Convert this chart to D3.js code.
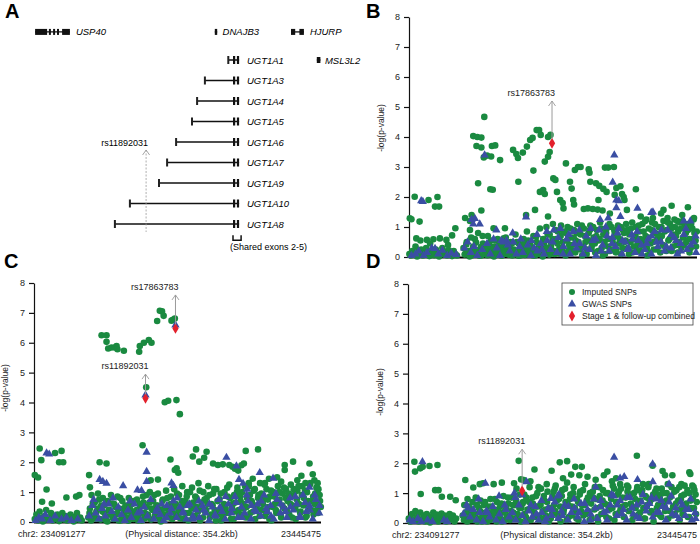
<!DOCTYPE html>
<html><head><meta charset="utf-8">
<script src="https://cdn.jsdelivr.net/npm/d3@7"></script>
<style>body{margin:0;background:#fff}svg{display:block;font-family:"Liberation Sans",Arial,sans-serif}</style>
</head><body><script>
// ---------- DATA ----------
const yTicks=[0,1,2,3,4,5,6,7,8];
const regionKb=354.2;
// Panel A gene tracks (units on an arbitrary map axis 0..100, track index)
const topGenes=[
 {name:"USP40",track:-0.37,exons:[[1.7,5.7],[6.3,6.7],[7.7,8.3],[9,9.4],[10.7,13.3]],span:[1.7,13.3],label:15.3},
 {name:"DNAJB3",track:-0.37,exons:[[61.6,62.4]],span:[61.6,62.4],label:64.2},
 {name:"HJURP",track:-0.37,exons:[[87,88.4],[89.8,91.3]],span:[87,91.3],label:93.3},
 {name:"MSL3L2",track:1,exons:[[95.6,96.8]],span:[95.6,96.8],label:98.3}
];
const ugtNames=["UGT1A1","UGT1A3","UGT1A4","UGT1A5","UGT1A6","UGT1A7","UGT1A9","UGT1A10","UGT1A8"];
const ugtStart=[66.1,58.3,55.7,54,48.7,45.7,43,33.3,28.3];
const sharedExons=[68,69.3];
const ugtEnd=69.7;
const ugtLabelPos=72.3;
const snpA={name:"rs11892031",pos:38.7,from:9.39,to:5.39};

// Panel B
const greenB=[[1,1.29],[3,1.26],[7,2.01],[13,1.18],[24,1.9],[32,1.68],[35,2.0],[37,1.68],[9,0.62],[22,0.57],[30,0.59],[38,0.62],[46,0.57],[57,0.96],
[69,1.3],[75,1.2],[77,1.4],[85,2.46],[89,1.55],[79,4.03],[84,4.0],[89,3.98],[92.6,4.67],[83,3.7],[89,3.65],[92,3.32],[96,3.38],[101,3.35],[102,3.7],[106,3.72],[112,3.23],[100,2.26],[103,2.24],[104,0.96],[118,0.96],
[128,3.57],[132,3.43],[134,3.3],[140,3.48],[145,3.68],[149,3.9],[152,3.97],[157,4.23],[160,4.23],[162,4.07],[171,4.0],[174,4.07],[167,3.18],[171,3.34],[173,3.5],[134.5,2.51],[153,2.88],[161,2.17],[165,2.23],[167,2.1],[144,1.4],[155,1.57],[171,1.35],
[177.5,2.62],[180,2.57],[182,2.17],[186,1.9],[190,1.62],[189,1.8],[193,3.12],[198,2.51],[200,2.28],[202,1.9],[203,1.75],[204,2.9],[208,3.0],[211,3.0],[221,2.92],[222,2.81],[223,2.51],[230,2.46],[234,2.37],[233,1.9],[239,2.27],[243,2.17],[241,2.98],[245,2.98],[252,3.0],[255,2.3],[260,2.36],[262,2.1],[264,2.0],[265,1.9],[253,2.07],[268,1.57],[279,2.26],[313,1.57],[323,1.71],[343,1.66],[300,1.3],[310,1.45],[330,1.2],
[215,1.6],[220,1.62],[226,1.6],[232,1.58],[238,1.55],[247,1.45],[285,1.35],[292,1.25],[318,1.3],[336,1.4],[350,1.25],
[0.5,0.1],[2,0.05],[4,0.2],[6,0.12],[8,0.35],[10,0.02],[11,0.18],[13,0.08],[15,0.25],[17,0.05],[19,0.15],[21,0.3],[23,0.1],[25,0.03],[27,0.2],[29,0.12],[31,0.06],[33,0.25],[35,0.15],[37,0.02],[39,0.1],[41,0.3],[43,0.08],[45,0.18],[47,0.05],[49,0.22],[51,0.12],[53,0.03],[55,0.2],[57,0.1],[59,0.05],[26,0.45],[14,0.55],[48,0.4],[53,0.72],
[67,0.3],[69,0.1],[71,0.5],[73,0.2],[75,0.9],[77,0.05],[79,0.35],[81,0.6],[83,0.15],[85,0.8],[87,0.25],[89,0.05],[91,0.45],[93,0.3],[95,0.12],[97,0.7],[99,0.2],[101,0.55],[103,0.05],[105,0.35],[107,0.15],[109,0.6],[111,0.25],[113,0.05],[115,0.4],[117,0.2],[119,0.65],[121,0.1],[123,0.3],[125,0.5],[127,0.05],[129,0.25],[131,0.75],[133,0.15],[135,0.45],[137,0.05],[139,0.3],[141,0.6],[143,0.2],[145,0.85],[147,0.1],[149,0.4],[151,0.25],[153,0.7],[155,0.05],[157,0.5],[159,0.3],[161,0.95],[163,0.15],[165,0.6],[167,0.35],[169,1.0],[171,0.2],[173,0.75],[175,0.45],[177,1.1],[179,0.1],[181,0.6],[183,0.85],[185,0.3],[187,1.05],[189,0.5],[191,0.15],[193,0.8],[195,1.0],[197,0.4],[199,0.65],[201,0.2],[203,0.9],[205,0.55],[207,1.1],[209,0.3],[211,0.75],[213,0.05],[215,0.95],[217,0.5],[219,0.25],[221,0.8],[223,1.05],[225,0.4],[227,0.65],[229,0.15],[231,0.9],[233,0.55],[235,1.15],[237,0.3],[239,0.75],[241,0.1],[243,0.95],[245,0.6],[247,0.2],[249,1.0],[251,0.45],[253,0.8],[255,0.25],[257,1.05],[259,0.6],[261,0.1],[263,0.9],[265,0.5],[267,1.1],[269,0.3],[271,0.75],[273,0.95],[275,0.15],[277,0.6],[279,1.0],[281,0.4],[283,0.85],[285,0.2],[287,1.1],[289,0.55],[291,0.7],[293,0.05],[295,0.95],[297,0.45],[299,1.15],[301,0.25],[303,0.8],[305,0.6],[307,1.0],[309,0.15],[311,0.7],[313,1.2],[315,0.35],[317,0.9],[319,0.55],[321,1.1],[323,0.2],[325,0.75],[327,1.0],[329,0.4],[331,0.85],[333,1.15],[335,0.3],[337,0.65],[339,1.05],[341,0.5],[343,0.9],[345,0.15],[347,1.1],[349,0.6],[351,0.8],[353,0.35]];
const greenB2=[[68.5,0.08],[70.5,0.42],[72.5,0.18],[74.5,0.02],[76.5,0.65],[78.5,0.28],[80.5,0.12],[82.5,0.48],[84.5,0.2],[86.5,0.04],[88.5,0.33],[90.5,0.7],[92.5,0.1],[94.5,0.25],[96.5,0.06],[98.5,0.4],[100.5,0.15],[102.5,0.3],[104.5,0.02],[106.5,0.55],[108.5,0.12],[110.5,0.38],[112.5,0.22],[114.5,0.05],[116.5,0.62],[118.5,0.18],[120.5,0.35],[122.5,0.08],[124.5,0.27],[126.5,0.45],[128.5,0.1],[130.5,0.2],[132.5,0.5],[134.5,0.04],[136.5,0.3],[138.5,0.15],[140.5,0.42],[142.5,0.07],[144.5,0.25],[146.5,0.55],[148.5,0.12],[150.5,0.33],[152.5,0.05],[154.5,0.22],[156.5,0.68],[158.5,0.1],[160.5,0.4],[162.5,0.18],[164.5,0.02],[166.5,0.5],[168.5,0.28],[170.5,0.75],[172.5,0.08],[174.5,0.35],[176.5,0.6],[178.5,0.2],[180.5,0.9],[182.5,0.45],[184.5,0.12],[186.5,0.7],[188.5,0.3],[190.5,0.85],[192.5,0.05],[194.5,0.55],[196.5,0.22],[198.5,0.95],[200.5,0.4],[202.5,0.65],[204.5,0.15],[206.5,0.8],[208.5,0.5],[210.5,0.25],[212.5,1.05],[214.5,0.35],[216.5,0.7],[218.5,0.1],[220.5,0.55],[222.5,0.9],[224.5,0.3],[226.5,1.0],[228.5,0.45],[230.5,0.7],[232.5,0.2],[234.5,0.6],[236.5,0.95],[238.5,0.05],[240.5,0.5],[242.5,0.8],[244.5,0.35],[246.5,1.1],[248.5,0.25],[250.5,0.6],[252.5,0.9],[254.5,0.15],[256.5,0.7],[258.5,0.45],[260.5,1.0],[262.5,0.3],[264.5,0.8],[266.5,0.55],[268.5,0.9],[270.5,0.1],[272.5,0.5],[274.5,1.15],[276.5,0.35],[278.5,0.7],[280.5,0.2],[282.5,1.05],[284.5,0.6],[286.5,0.4],[288.5,0.85],[290.5,1.2],[292.5,0.3],[294.5,0.65],[296.5,0.15],[298.5,0.9],[300.5,0.5],[302.5,1.1],[304.5,0.25],[306.5,0.75],[308.5,0.55],[310.5,1.0],[312.5,0.4],[314.5,0.85],[316.5,0.2],[318.5,1.15],[320.5,0.6],[322.5,0.95],[324.5,0.35],[326.5,1.25],[328.5,0.7],[330.5,0.15],[332.5,0.5],[334.5,0.95],[336.5,1.2],[338.5,0.4],[340.5,0.8],[342.5,1.1],[344.5,0.6],[346.5,0.3],[348.5,0.95],[350.5,1.3],[352.5,0.55],[354,0.85]];
const blueB=[[15,1.87],[17,1.85],[77,1.25],[81,1.28],[79,1.1],[87,1.1],[93,3.4],[144,1.33],[252.5,3.4],[250.5,2.49],[255,1.9],[258,1.87],[255,1.64],[281,1.62],[298,1.48],[300,1.5],[338,1.2],[260,1.35],[245,1.3],[235,1.25],
[3,0.05],[8,0.1],[12,0.2],[18,0.05],[22,0.15],[28,0.3],[32,0.28],[36,0.1],[41,0.22],[47,0.05],[52,0.12],[58,0.08],[68,0.3],[72,0.5],[76,0.15],[80,0.35],[84,0.05],[90,0.25],[96,0.45],[100,0.1],[104,0.6],[108,0.3],[112,0.05],[116,0.5],[120,0.55],[124,0.2],[128,0.5],[132,0.1],[136,0.35],[140,0.15],[146,0.4],[150,0.05],[154,0.3],[158,0.2],[162,0.45],[166,0.1],[170,0.55],[174,0.25],[178,0.9],[182,0.15],[186,0.95],[190,0.35],[194,0.6],[198,0.1],[202,0.85],[206,0.3],[210,0.45],[214,0.1],[218,0.7],[222,0.25],[226,0.55],[230,0.05],[234,0.9],[238,0.4],[242,1.0],[246,0.2],[250,0.65],[254,0.35],[258,0.95],[262,0.1],[266,0.5],[270,0.3],[274,0.75],[278,0.15],[282,0.55],[286,0.4],[290,0.25],[294,0.6],[298,0.1],[302,0.85],[306,0.35],[310,0.5],[314,0.2],[318,0.9],[322,0.3],[326,0.65],[330,0.1],[334,0.45],[338,0.75],[342,0.25],[346,1.2],[350,0.5],[353,0.15]];
const blueB2=[[150.5,0.55],[157.5,0.75],[163.5,0.25],[169.5,0.85],[176.5,0.5],[183.5,0.65],[189.5,0.1],[196.5,0.75],[203.5,0.45],[209.5,0.9],[216.5,0.3],[223.5,0.95],[229.5,0.6],[236.5,0.2],[243.5,0.7],[249.5,0.45],[256.5,0.8],[262.5,0.55],[268.5,0.25],[274.5,0.6],[280.5,0.85],[286.5,0.1],[292.5,0.45],[298.5,0.7],[304.5,0.5],[310.5,0.9],[316.5,0.35],[322.5,0.75],[328.5,0.55],[334.5,0.2],[340.5,0.95],[346.5,0.4],[352.5,0.7],[107.5,0.9],[113.5,0.55],[121.5,0.4],[127.5,0.8],[137.5,0.6]];
const redB=[[175.9,3.79]];
const annB=[{snp:"rs17863783",kb:175.9,from:3.79,to:5.2}];

// Panel C
const greenC=[[1,1.57],[5,1.49],[7,2.46],[9,2.07],[26,2.31],[34,2.38],[31,2.0],[36,2.0],[15.5,1.09],[10,0.68],[22,0.62],[40,0.82],[52,0.85],[56,0.9],[68,1.57],[69,1.16],[81,2.0],[89.5,1.96],
[83.4,6.25],[89.5,6.25],[89.5,6.03],[91.6,5.81],[95.7,5.84],[99.8,5.84],[101.9,5.89],[103,5.78],[110.9,5.73],[129.8,5.7],[130.6,5.89],[135.6,6.0],[141.7,6.09],[145,6.0],[152,6.73],[155.3,7.07],[158,7.05],[160,6.9],[169.7,6.74],[171.5,6.77],[173.8,6.81],
[138.5,4.51],[161.4,4.01],[165.6,4.06],[175.8,4.08],[180,3.61],[134,2.57],[144,1.4],[153,1.42],[168.4,2.09],[173.8,1.74],[176,1.8],[178,1.65],[200,2.43],[196,2.19],[204,2.02],[213,2.35],[210,2.15],[221,1.96],[227,1.91],[233,1.93],[241,1.91],[245,1.85],[248,1.78],[252,1.72],[256,1.9],[259,1.96],[261.3,2.38],[276.5,2.43],[309.4,1.91],[309.4,1.74],[319.7,2.02],[340,1.96],[344,1.6],[346,1.4],[300,1.5],[305,1.35],[290,1.45],[285,1.3],[325,1.4],[330,1.55],[335,1.3],[350,1.3],[270,1.45],[265,1.3],
[1,0.1],[3,0.25],[5,0.05],[7,0.35],[9,0.15],[11,0.02],[13,0.2],[15,0.4],[17,0.08],[19,0.12],[21,0.3],[23,0.05],[25,0.18],[27,0.1],[29,0.25],[31,0.03],[33,0.15],[35,0.3],[37,0.08],[39,0.2],[41,0.05],[43,0.12],[45,0.25],[47,0.1],[49,0.02],[51,0.18],[53,0.3],[55,0.08],[57,0.15],[59,0.05],
[67,0.15],[69,0.45],[71,0.9],[73,0.2],[75,0.65],[77,0.35],[79,0.95],[81,0.1],[83,0.55],[85,0.8],[87,0.3],[89,0.05],[91,0.7],[93,0.4],[95,0.9],[97,0.15],[99,0.6],[101,0.25],[103,0.85],[105,0.45],[107,0.05],[109,0.7],[111,0.3],[113,0.55],[115,0.15],[117,0.8],[119,0.4],[121,0.6],[123,0.1],[125,0.35],[127,0.75],[129,0.2],[131,0.5],[133,0.05],[135,0.65],[137,0.3],[139,0.9],[141,0.15],[143,1.0],[145,0.45],[147,0.7],[149,0.2],[151,0.55],[153,0.95],[155,0.1],[157,0.4],[159,0.75],[161,0.25],[163,1.05],[165,0.5],[167,0.15],[169,0.85],[171,0.35],[173,1.1],[175,0.6],[177,0.2],[179,0.9],[181,0.45],[183,1.2],[185,0.1],[187,0.7],[189,1.0],[191,0.3],[193,0.55],[195,1.15],[197,0.2],[199,0.85],[201,0.5],[203,1.3],[205,0.05],[207,0.65],[209,1.0],[211,0.35],[213,0.8],[215,1.2],[217,0.15],[219,0.6],[221,0.95],[223,0.4],[225,1.1],[227,0.25],[229,0.75],[231,0.05],[233,0.5],[235,1.0],[237,0.3],[239,0.85],[241,1.25],[243,0.1],[245,0.6],[247,0.9],[249,0.35],[251,1.15],[253,0.2],[255,0.7],[257,1.0],[259,0.45],[261,0.15],[263,0.8],[265,1.2],[267,0.3],[269,0.65],[271,1.05],[273,0.1],[275,0.55],[277,0.9],[279,1.3],[281,0.4],[283,0.75],[285,0.2],[287,1.1],[289,0.5],[291,0.85],[293,0.05],[295,1.0],[297,0.6],[299,0.3],[301,1.2],[303,0.75],[305,0.15],[307,0.95],[309,0.45],[311,1.1],[313,0.7],[315,0.25],[317,1.25],[319,0.55],[321,0.9],[323,0.1],[325,1.05],[327,0.6],[329,0.35],[331,1.2],[333,0.8],[335,0.15],[337,1.0],[339,0.5],[341,1.3],[343,0.7],[345,0.25],[347,0.95],[349,0.4],[351,1.1],[353,0.7]];
const greenC2=[[68.5,0.3],[70.5,0.05],[72.5,0.6],[74.5,0.22],[76.5,0.12],[78.5,0.45],[80.5,0.75],[82.5,0.08],[84.5,0.35],[86.5,0.55],[88.5,0.18],[90.5,0.02],[92.5,0.4],[94.5,0.25],[96.5,0.62],[98.5,0.1],[100.5,0.5],[102.5,0.3],[104.5,0.05],[106.5,0.8],[108.5,0.2],[110.5,0.45],[112.5,0.12],[114.5,0.35],[116.5,0.04],[118.5,0.55],[120.5,0.25],[122.5,0.7],[124.5,0.15],[126.5,0.4],[128.5,0.05],[130.5,0.6],[132.5,0.3],[134.5,0.85],[136.5,0.12],[138.5,0.5],[140.5,0.25],[142.5,0.65],[144.5,0.08],[146.5,0.4],[148.5,0.9],[150.5,0.2],[152.5,0.55],[154.5,0.3],[156.5,0.02],[158.5,0.7],[160.5,0.45],[162.5,0.15],[164.5,0.8],[166.5,0.35],[168.5,0.6],[170.5,0.1],[172.5,0.5],[174.5,0.25],[176.5,0.95],[178.5,0.4],[180.5,0.12],[182.5,0.7],[184.5,0.55],[186.5,0.3],[188.5,0.85],[190.5,0.05],[192.5,1.0],[194.5,0.45],[196.5,0.65],[198.5,0.2],[200.5,0.8],[202.5,0.35],[204.5,1.05],[206.5,0.5],[208.5,0.15],[210.5,0.75],[212.5,0.4],[214.5,0.6],[216.5,0.9],[218.5,0.25],[220.5,0.55],[222.5,1.1],[224.5,0.05],[226.5,0.7],[228.5,0.35],[230.5,0.95],[232.5,0.2],[234.5,0.6],[236.5,0.45],[238.5,1.15],[240.5,0.3],[242.5,0.8],[244.5,0.5],[246.5,0.1],[248.5,0.65],[250.5,1.0],[252.5,0.4],[254.5,0.85],[256.5,0.25],[258.5,0.6],[260.5,1.2],[262.5,0.5],[264.5,0.15],[266.5,0.9],[268.5,0.7],[270.5,0.35],[272.5,1.1],[274.5,0.45],[276.5,0.8],[278.5,0.2],[280.5,0.95],[282.5,0.6],[284.5,1.25],[286.5,0.3],[288.5,0.75],[290.5,0.1],[292.5,1.05],[294.5,0.5],[296.5,0.85],[298.5,0.4],[300.5,0.65],[302.5,1.0],[304.5,0.25],[306.5,0.55],[308.5,1.15],[310.5,0.8],[312.5,0.35],[314.5,0.95],[316.5,0.6],[318.5,0.15],[320.5,1.1],[322.5,0.45],[324.5,0.75],[326.5,1.2],[328.5,0.3],[330.5,0.9],[332.5,0.55],[334.5,1.05],[336.5,0.2],[338.5,0.7],[340.5,1.25],[342.5,0.4],[344.5,0.85],[346.5,0.6],[348.5,1.15],[350.5,0.3],[352.5,0.9],[354,0.5]];
const blueC=[[15.5,2.31],[18.8,2.27],[81,1.42],[85,1.35],[89.5,1.29],[110,1.21],[127.7,1.07],[132.7,1.05],[139,2.33],[139,1.69],[139,1.35],[169.7,1.3],[172,1.22],[237.5,2.16],[249.8,1.87],[253,1.42],[258,1.29],[263,1.09],[278.6,1.65],[295,1.46],[340,1.16],[174.6,6.59],[137.6,4.25],
[2,0.05],[6,0.15],[10,0.1],[14,0.25],[20,0.05],[26,0.2],[34,0.1],[40,0.15],[46,0.05],[54,0.1],[68,0.2],[72,0.55],[76,0.3],[80,0.1],[84,0.45],[88,0.2],[92,0.6],[96,0.35],[100,0.1],[104,0.5],[108,0.25],[112,0.05],[116,0.4],[120,0.15],[124,0.6],[128,0.3],[132,0.05],[136,0.5],[140,0.2],[144,0.75],[148,0.1],[152,0.45],[156,0.25],[160,0.05],[164,0.55],[168,0.3],[172,0.7],[176,0.15],[180,0.5],[184,0.35],[188,0.1],[192,0.6],[196,0.2],[200,0.4],[204,0.15],[208,0.55],[212,0.3],[216,0.05],[220,0.5],[224,0.2],[228,0.75],[232,0.35],[236,0.1],[240,0.6],[244,0.45],[248,0.85],[252,0.15],[256,0.5],[260,0.3],[264,0.7],[268,0.1],[272,0.4],[276,0.6],[280,0.2],[284,0.9],[288,0.35],[292,0.55],[296,0.1],[300,0.75],[304,0.3],[308,0.5],[312,0.15],[316,0.8],[320,0.4],[324,0.6],[328,0.2],[332,0.9],[336,0.35],[340,0.55],[344,0.1],[348,0.75],[352,0.3]];
const blueC2=[[150.5,0.35],[157.5,0.6],[163.5,0.15],[169.5,0.45],[176.5,0.8],[183.5,0.3],[189.5,0.55],[196.5,0.1],[203.5,0.7],[209.5,0.4],[216.5,0.6],[223.5,0.25],[229.5,0.5],[236.5,0.85],[243.5,0.3],[249.5,0.65],[256.5,0.15],[262.5,0.9],[268.5,0.55],[274.5,0.35],[280.5,0.7],[286.5,0.45],[292.5,0.2],[298.5,0.95],[304.5,0.6],[310.5,0.35],[316.5,0.5],[322.5,0.85],[328.5,0.15],[334.5,0.65],[340.5,0.4],[346.5,0.9],[352.5,0.55],[73.5,0.75],[86.5,0.6],[97.5,0.8],[118.5,0.7],[131.5,0.35]];
const redC=[[174.6,6.48],[137.6,4.14]];
const annC=[{snp:"rs17863783",kb:174.6,from:6.48,to:7.6},{snp:"rs11892031",kb:137.6,from:4.14,to:4.95}];

// Panel D
const greenD=[[7.8,2.05],[8.6,1.72],[15,1.83],[18,1.88],[26.3,1.91],[36.1,1.94],[33.3,1.1],[37.4,1.1],[15.6,0.97],[41.5,0.88],[51.7,0.88],[58.5,0.76],[70.2,1.44],[80,1.19],[88,1.3],[92,1.33],[105,1.3],[115,1.35],[130,1.33],[135.7,2.08],[138.6,1.46],[142,1.44],[150,1.4],[155,1.79],[160,1.2],[170,1.3],[176,1.75],[180,1.15],[186,2.03],[195,2.07],[205,1.88],[213,1.88],[190,1.5],[200,1.62],[210,1.6],[220,1.55],[230,1.45],[240,1.6],[244.4,1.72],[250,1.4],[260,1.3],[280.5,2.25],[299.8,1.92],[312,1.74],[315,1.6],[324,1.6],[335,1.3],[344.8,1.7],[346,1.64],[350,1.2],[288,1.3],[270,1.2],[255,1.5],
[1,0.15],[3,0.05],[5,0.3],[7,0.1],[9,0.4],[11,0.2],[13,0.05],[15,0.35],[17,0.12],[19,0.25],[21,0.05],[23,0.3],[25,0.15],[27,0.02],[29,0.22],[31,0.35],[33,0.1],[35,0.28],[37,0.05],[39,0.2],[41,0.32],[43,0.1],[45,0.25],[47,0.05],[49,0.18],[51,0.3],[53,0.12],[55,0.25],[57,0.05],[59,0.15],
[67,0.25],[69,0.6],[71,0.15],[73,0.8],[75,0.4],[77,0.1],[79,0.7],[81,0.3],[83,0.85],[85,0.05],[87,0.5],[89,0.75],[91,0.2],[93,0.6],[95,0.35],[97,0.05],[99,0.55],[101,0.8],[103,0.25],[105,0.45],[107,0.1],[109,0.7],[111,0.3],[113,0.55],[115,0.05],[117,0.9],[119,0.4],[121,0.2],[123,0.65],[125,0.1],[127,0.85],[129,0.35],[131,0.6],[133,1.15],[135,0.2],[137,0.95],[139,0.5],[141,0.7],[143,0.3],[145,0.85],[147,0.1],[149,1.2],[151,0.45],[153,0.65],[155,0.2],[157,0.9],[159,0.55],[161,0.1],[163,1.15],[165,0.4],[167,0.75],[169,0.25],[171,1.05],[173,0.5],[175,0.15],[177,0.9],[179,0.6],[181,1.25],[183,0.3],[185,0.8],[187,0.05],[189,1.1],[191,0.45],[193,0.7],[195,1.35],[197,0.2],[199,0.95],[201,0.55],[203,1.2],[205,0.35],[207,0.8],[209,0.1],[211,1.05],[213,0.6],[215,0.25],[217,1.3],[219,0.75],[221,0.4],[223,1.0],[225,0.15],[227,0.85],[229,1.2],[231,0.5],[233,0.05],[235,0.9],[237,0.3],[239,1.1],[241,0.65],[243,0.2],[245,1.0],[247,0.45],[249,0.8],[251,1.25],[253,0.1],[255,0.7],[257,0.95],[259,0.35],[261,1.15],[263,0.55],[265,0.2],[267,0.85],[269,1.05],[271,0.4],[273,0.65],[275,0.1],[277,1.0],[279,0.5],[281,1.2],[283,0.3],[285,0.75],[287,1.1],[289,0.15],[291,0.9],[293,0.6],[295,1.3],[297,0.35],[299,0.8],[301,0.05],[303,1.05],[305,0.5],[307,0.95],[309,0.25],[311,1.15],[313,0.7],[315,0.4],[317,1.0],[319,0.15],[321,0.85],[323,1.2],[325,0.55],[327,0.3],[329,1.1],[331,0.75],[333,0.1],[335,0.9],[337,0.45],[339,1.25],[341,0.65],[343,0.2],[345,1.0],[347,0.5],[349,0.8],[351,1.1],[353,0.3]];
const greenD2=[[68.5,0.1],[70.5,0.35],[72.5,0.05],[74.5,0.55],[76.5,0.25],[78.5,0.45],[80.5,0.1],[82.5,0.3],[84.5,0.6],[86.5,0.15],[88.5,0.4],[90.5,0.05],[92.5,0.25],[94.5,0.7],[96.5,0.2],[98.5,0.35],[100.5,0.1],[102.5,0.55],[104.5,0.3],[106.5,0.8],[108.5,0.05],[110.5,0.45],[112.5,0.2],[114.5,0.65],[116.5,0.35],[118.5,0.1],[120.5,0.5],[122.5,0.85],[124.5,0.25],[126.5,0.4],[128.5,0.6],[130.5,0.15],[132.5,0.75],[134.5,0.3],[136.5,0.5],[138.5,0.05],[140.5,0.65],[142.5,0.95],[144.5,0.2],[146.5,0.45],[148.5,0.7],[150.5,0.1],[152.5,0.85],[154.5,0.35],[156.5,0.55],[158.5,1.0],[160.5,0.25],[162.5,0.6],[164.5,0.15],[166.5,0.9],[168.5,0.45],[170.5,0.7],[172.5,0.05],[174.5,0.5],[176.5,0.3],[178.5,1.05],[180.5,0.4],[182.5,0.75],[184.5,0.2],[186.5,0.55],[188.5,0.9],[190.5,0.35],[192.5,1.15],[194.5,0.1],[196.5,0.6],[198.5,0.8],[200.5,0.25],[202.5,1.0],[204.5,0.5],[206.5,0.15],[208.5,0.7],[210.5,0.95],[212.5,0.4],[214.5,1.1],[216.5,0.6],[218.5,0.3],[220.5,0.85],[222.5,0.1],[224.5,0.65],[226.5,1.05],[228.5,0.45],[230.5,0.8],[232.5,0.2],[234.5,1.2],[236.5,0.55],[238.5,0.75],[240.5,0.35],[242.5,1.0],[244.5,0.6],[246.5,0.15],[248.5,0.9],[250.5,0.5],[252.5,1.15],[254.5,0.3],[256.5,0.7],[258.5,1.05],[260.5,0.45],[262.5,0.85],[264.5,0.2],[266.5,0.6],[268.5,1.25],[270.5,0.4],[272.5,0.95],[274.5,0.55],[276.5,0.25],[278.5,0.8],[280.5,1.1],[282.5,0.65],[284.5,0.35],[286.5,1.0],[288.5,0.5],[290.5,0.15],[292.5,0.85],[294.5,1.2],[296.5,0.7],[298.5,0.4],[300.5,0.95],[302.5,0.3],[304.5,1.15],[306.5,0.6],[308.5,0.85],[310.5,0.2],[312.5,1.0],[314.5,0.55],[316.5,0.75],[318.5,1.3],[320.5,0.4],[322.5,0.9],[324.5,0.25],[326.5,1.05],[328.5,0.65],[330.5,0.45],[332.5,1.2],[334.5,0.8],[336.5,0.3],[338.5,0.95],[340.5,0.6],[342.5,1.1],[344.5,0.2],[346.5,0.75],[348.5,1.25],[350.5,0.5],[352.5,0.95],[354,0.7]];
const blueD=[[17.7,2.05],[94.8,1.33],[111.6,0.9],[130.4,1.0],[139.9,0.94],[145.2,1.38],[175,0.82],[252.6,2.2],[299.8,1.97],[281.3,1.45],[300,1.38],[260,1.5],[265,1.55],[185,0.95],[230,1.2],[320,1.3],
[2,0.1],[6,0.05],[12,0.15],[16,0.05],[24,0.1],[30,0.05],[44,0.1],[48,0.05],[68,0.3],[72,0.6],[76,0.2],[80,0.45],[84,0.1],[88,0.35],[92,0.05],[96,0.4],[100,0.2],[104,0.55],[108,0.1],[112,0.3],[116,0.05],[120,0.45],[124,0.2],[128,0.35],[132,0.1],[136,0.6],[140,0.25],[144,0.05],[148,0.4],[152,0.2],[156,0.55],[160,0.1],[164,0.35],[168,0.05],[172,0.5],[176,0.25],[180,0.7],[184,0.15],[188,0.4],[192,0.6],[196,0.1],[200,0.35],[204,0.5],[208,0.2],[212,0.65],[216,0.05],[220,0.45],[224,0.3],[228,0.8],[232,0.15],[236,0.55],[240,0.35],[244,0.1],[248,0.6],[252,0.9],[256,0.25],[260,0.75],[264,0.45],[268,0.1],[272,0.85],[276,0.3],[280,0.6],[284,0.15],[288,0.95],[292,0.4],[296,0.65],[300,0.2],[304,0.8],[308,0.35],[312,0.55],[316,0.1],[320,0.7],[324,0.3],[328,0.5],[332,0.15],[336,0.6],[340,0.25],[344,0.45],[348,0.1],[352,0.35]];
const blueD2=[[150.5,0.6],[157.5,0.3],[163.5,0.75],[169.5,0.15],[176.5,0.45],[183.5,0.9],[189.5,0.25],[196.5,0.55],[203.5,0.8],[209.5,0.35],[216.5,0.65],[223.5,0.1],[229.5,0.5],[236.5,0.75],[243.5,0.4],[249.5,0.95],[256.5,0.6],[262.5,0.3],[268.5,0.85],[274.5,0.5],[280.5,0.2],[286.5,0.7],[292.5,0.55],[298.5,0.85],[304.5,0.35],[310.5,0.75],[316.5,0.5],[322.5,0.9],[328.5,0.25],[334.5,0.7],[340.5,0.45],[346.5,0.8],[352.5,0.15],[73.5,0.5],[86.5,0.8],[97.5,0.35],[118.5,0.6],[131.5,0.85]];
const redD=[[139.9,1.08]];
const annD=[{snp:"rs11892031",kb:139.9,from:1.08,to:2.47}];

const xLabels=["chr2: 234091277","(Physical distance: 354.2kb)","23445475"];
const legendItems=[{label:"Imputed SNPs",shape:"circle"},{label:"GWAS SNPs",shape:"triangle"},{label:"Stage 1 & follow-up combined",shape:"diamond"}];

// ---------- DRAW ----------
const GREEN="#1a8a40",BLUE="#3a4ea3",RED="#e3202c",GRAY="#9a9a9a";
const svg=d3.select("body").append("svg").attr("width",700).attr("height",544);

function letter(t,x,y){svg.append("text").attr("x",x).attr("y",y).attr("font-size",20).attr("font-weight","bold").text(t);}
letter("A",5,18);letter("B",366,18);letter("C",4,268);letter("D",366,268);

// Panel A
const xA=d3.scaleLinear().domain([0,100]).range([30,330]);
const yA=d3.scaleLinear().domain([1,9]).range([60,224]);
const gA=svg.append("g");
topGenes.forEach(g=>{
  const y=yA(g.track);
  gA.append("line").attr("x1",xA(g.span[0])).attr("x2",xA(g.span[1])).attr("y1",y).attr("y2",y).attr("stroke","#111").attr("stroke-width",1.3);
  g.exons.forEach(e=>gA.append("rect").attr("x",xA(e[0])).attr("width",Math.max(2,xA(e[1])-xA(e[0]))).attr("y",y-3).attr("height",6).attr("fill","#111"));
  gA.append("text").attr("x",xA(g.label)).attr("y",y+3.5).attr("font-size",9.5).attr("font-style","italic").text(g.name);
});
ugtNames.forEach((n,i)=>{
  const y=yA(i+1);
  gA.append("line").attr("x1",xA(ugtStart[i])).attr("x2",xA(ugtEnd)).attr("y1",y).attr("y2",y).attr("stroke","#111").attr("stroke-width",1.5);
  gA.append("rect").attr("x",xA(ugtStart[i])-1).attr("width",2).attr("y",y-4).attr("height",8).attr("fill","#222");
  sharedExons.forEach(s=>gA.append("rect").attr("x",xA(s)-1).attr("width",2.2).attr("y",y-4).attr("height",8).attr("fill","#111"));
  gA.append("text").attr("x",xA(ugtLabelPos)).attr("y",y+3.5).attr("font-size",9.5).attr("font-style","italic").text(n);
});
{
 const y1=yA(9.55), y2=y1+5, xa=xA(sharedExons[0])-1, xb=xA(ugtEnd)+2;
 gA.append("path").attr("d",`M${xa},${y1}V${y2}H${xb}V${y1}`).attr("fill","none").attr("stroke","#111").attr("stroke-width",1.5);
 gA.append("text").attr("x",xa-3).attr("y",y2+10).attr("font-size",9).text("(Shared exons 2-5)");
}
{
 const x=xA(snpA.pos), yt=yA(snpA.to), yb=yA(snpA.from);
 gA.append("line").attr("x1",x).attr("x2",x).attr("y1",yt).attr("y2",yb).attr("stroke",GRAY).attr("stroke-width",0.8).attr("stroke-dasharray","2,1.5");
 gA.append("path").attr("d",`M${x-3.5},${yt+5}L${x},${yt}L${x+3.5},${yt+5}`).attr("fill","none").attr("stroke",GRAY).attr("stroke-width",0.9);
 gA.append("text").attr("x",x+2).attr("y",yt-4).attr("text-anchor","end").attr("font-size",9).text(snpA.name);
}

const tri=d3.symbol().type(d3.symbolTriangle).size(30);
const dia=d3.symbol().type(d3.symbolDiamond).size(34);

function scatter(o){
  const x=d3.scaleLinear().domain([0,regionKb]).range([o.x0,o.x1]);
  const y=d3.scaleLinear().domain([0,8]).range([o.yb,o.yt]);
  const g=svg.append("g");
  const ax=g.append("g").attr("transform",`translate(${o.x0},0)`)
    .call(d3.axisLeft(y).tickValues(yTicks).tickSize(5).tickSizeOuter(0).tickPadding(4).tickFormat(d3.format("d")));
  ax.attr("font-family",null).attr("font-size",null);
  ax.selectAll("text").attr("font-size",9).attr("fill","#222");
  ax.selectAll("line,path").attr("stroke","#111").attr("stroke-width",1.2);
  g.append("line").attr("x1",x(0)).attr("x2",x(regionKb)).attr("y1",y(0)+0.5).attr("y2",y(0)+0.5).attr("stroke","#000").attr("stroke-width",2);
  g.append("g").selectAll("circle").data(o.green).join("circle")
    .attr("cx",d=>x(d[0])).attr("cy",d=>y(d[1])).attr("r",3.3).attr("fill",GREEN);
  g.append("g").selectAll("path").data(o.blue).join("path")
    .attr("d",tri).attr("transform",d=>`translate(${x(d[0])},${y(d[1])})`).attr("fill",BLUE);
  g.append("g").selectAll("path").data(o.red).join("path")
    .attr("d",dia).attr("transform",d=>`translate(${x(d[0])},${y(d[1])})`).attr("fill",RED);
  o.ann.forEach(a=>{
    const xx=x(a.kb), yt=y(a.to), yb=y(a.from)-4;
    g.append("line").attr("x1",xx).attr("x2",xx).attr("y1",yt).attr("y2",yb).attr("stroke",GRAY).attr("stroke-width",1);
    g.append("path").attr("d",`M${xx-3.5},${yt+5}L${xx},${yt}L${xx+3.5},${yt+5}`).attr("fill","none").attr("stroke",GRAY).attr("stroke-width",0.9);
    g.append("text").attr("x",xx+3).attr("y",yt-5).attr("text-anchor","end").attr("font-size",9).attr("fill","#222").text(a.snp);
  });
  g.append("text").attr("transform",`translate(${o.ylx},${o.yly}) rotate(-90)`).attr("text-anchor","middle").attr("font-size",8.5).attr("fill","#222").text("-log(p-value)");
  if(o.xlab){
    const yy=o.yb+15;
    g.append("text").attr("x",x(0)-16).attr("y",yy).attr("font-size",9).attr("fill","#222").text(xLabels[0]);
    g.append("text").attr("x",x(regionKb/2)+4).attr("y",yy).attr("text-anchor","middle").attr("font-size",9).attr("fill","#222").text(xLabels[1]);
    g.append("text").attr("x",x(regionKb)).attr("y",yy).attr("text-anchor","end").attr("font-size",9).attr("fill","#222").text(xLabels[2]);
  }
}

scatter({x0:409,x1:697,yt:17,yb:257,green:greenB.concat(greenB2),blue:blueB.concat(blueB2),red:redB,ann:annB,ylx:384,yly:128,xlab:false});
scatter({x0:34,x1:321,yt:283,yb:522,green:greenC.concat(greenC2),blue:blueC.concat(blueC2),red:redC,ann:annC,ylx:8,yly:388,xlab:true});
scatter({x0:408,x1:697,yt:284,yb:523,green:greenD.concat(greenD2),blue:blueD.concat(blueD2),red:redD,ann:annD,ylx:383,yly:392,xlab:true});

{
 const lg=svg.append("g").attr("transform","translate(562,283)");
 lg.append("rect").attr("width",131).attr("height",42).attr("fill","#fff").attr("stroke","#444").attr("stroke-width",0.8);
 legendItems.forEach((it,i)=>{
   const cy=9+i*12;
   if(it.shape==="circle")lg.append("circle").attr("cx",10).attr("cy",cy).attr("r",3).attr("fill",GREEN);
   else lg.append("path").attr("d",it.shape==="triangle"?tri:dia).attr("transform",`translate(10,${cy})`).attr("fill",it.shape==="triangle"?BLUE:RED);
   lg.append("text").attr("x",20).attr("y",cy+3).attr("font-size",8.5).attr("fill","#222").text(it.label);
 });
}
</script></body></html>
